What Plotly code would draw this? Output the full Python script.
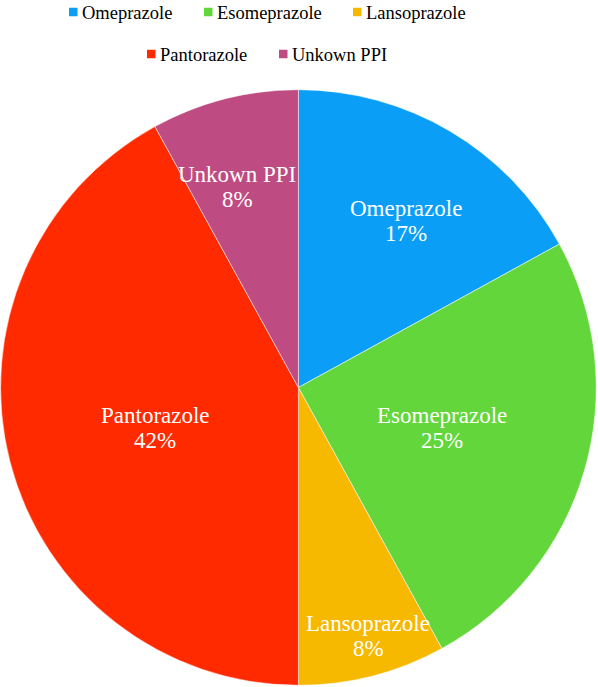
import plotly.graph_objects as go

labels = ["Omeprazole", "Esomeprazole", "Lansoprazole", "Pantorazole", "Unkown PPI"]
values = [17, 25, 8, 42, 8]
colors = ["#0A9EF7", "#62D63A", "#F7B800", "#FF2A00", "#BE4B82"]

FONT = "Liberation Serif, Times New Roman, serif"
W, H = 598, 687

# layout helpers (pixel positions of label block centres, legend placements)
label_centers = [(406, 221), (442, 428), (368, 636), (155, 428), (237, 187)]
legend_rows = [[0, 1, 2], [3, 4]]
legend_row_y = [13, 55]
legend_square_x = [[69, 204, 353], [147, 279]]


def px(x):
    return x / W


def py(y):
    return 1 - y / H


fig = go.Figure(go.Pie(
    labels=labels,
    values=values,
    sort=False,
    direction="clockwise",
    rotation=0,
    marker=dict(colors=colors, line=dict(color="white", width=0.5)),
    textinfo="none",
    domain=dict(x=[0.001, 0.997], y=[0.0022, 0.8697]),
    showlegend=False,
    hoverinfo="label+percent",
))

total = sum(values)
for i, (cx, cy) in enumerate(label_centers):
    pct = round(100 * values[i] / total)
    for dy, txt in ((-12.5, labels[i]), (12.5, f"{pct}%")):
        fig.add_annotation(
            x=px(cx), y=py(cy + dy), xref="paper", yref="paper",
            xanchor="center", yanchor="middle", showarrow=False,
            text=txt, font=dict(family=FONT, size=23, color="white"),
        )

sq = 8.5
for r, idxs in enumerate(legend_rows):
    yc = legend_row_y[r]
    for k, i in enumerate(idxs):
        x0 = legend_square_x[r][k]
        fig.add_shape(
            type="rect", xref="paper", yref="paper",
            x0=px(x0), x1=px(x0 + sq), y0=py(yc - 1 + sq / 2), y1=py(yc - 1 - sq / 2),
            fillcolor=colors[i], line=dict(width=0),
        )
        fig.add_annotation(
            x=px(x0 + sq + 2.5), y=py(yc), xref="paper", yref="paper",
            xanchor="left", yanchor="middle", showarrow=False,
            text=labels[i], font=dict(family=FONT, size=18.5, color="black"),
        )

fig.update_layout(
    width=W, height=H,
    margin=dict(l=0, r=0, t=0, b=0),
    paper_bgcolor="white",
    font=dict(family=FONT),
)

fig.write_html("out.html", config={"displayModeBar": False},
               post_script="document.body.style.margin='0';")
